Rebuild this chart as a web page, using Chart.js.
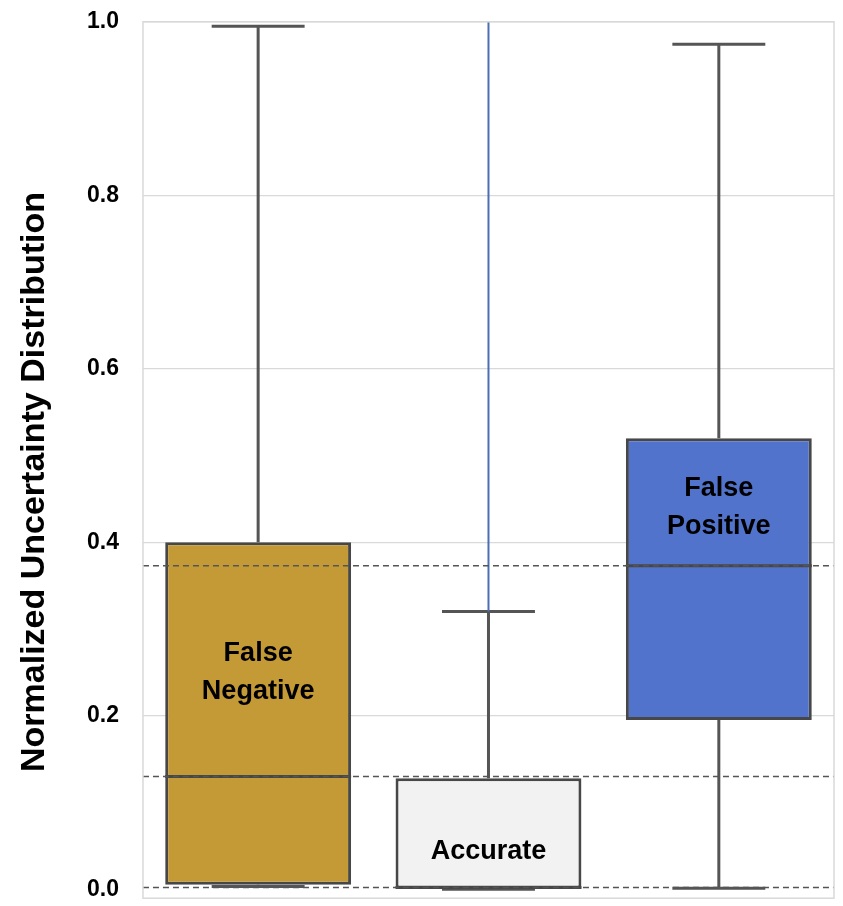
<!DOCTYPE html>
<html>
<head>
<meta charset="utf-8">
<script src="https://cdn.jsdelivr.net/npm/chart.js@4.4.1/dist/chart.umd.min.js"></script>
<style>
  html, body { margin: 0; padding: 0; background: #fff; overflow: hidden; }
  #myChart { display: block; margin-top: -16px; }
</style>
</head>
<body>
<canvas id="myChart" width="843" height="952"></canvas>
<script>
// datos del box plot
const categories = ['False Negative', 'Accurate', 'False Positive'];
const boxLabels = [['False', 'Negative'], ['Accurate'], ['False', 'Positive']];
const labelPos = [0.25, 0.043, 0.44];          // donde va el texto dentro de cada caja
const whiskerLow = [0.003, 0.0, 0.001];
const q1 = [0.005, 0.0, 0.195];
const median = [0.130, 0.002, 0.373];
const q3 = [0.400, 0.128, 0.520];
const whiskerHigh = [0.995, 0.320, 0.974];
const outlierTop = [null, 1.0, null];
const refLines = [0.373, 0.130, 0.002];
const yTicks = [0.0, 0.2, 0.4, 0.6, 0.8, 1.0];
const boxColors = ['#C49A37', '#F2F2F2', '#5273CC'];
const yTitle = 'Normalized Uncertainty Distribution';

// plugin para bigotes, medianas, lineas punteadas y textos
const boxExtras = {
  id: 'boxExtras',
  afterDatasetsDraw(chart) {
    const ctx = chart.ctx;
    const x = chart.scales.x;
    const y = chart.scales.y;
    const area = chart.chartArea;
    const meta = chart.getDatasetMeta(0);
    ctx.save();

    categories.forEach((c, i) => {
      const cx = x.getPixelForValue(i);
      const bw = meta.data[i].width;
      const cap = bw * 0.5;
      ctx.strokeStyle = '#555555';
      ctx.lineWidth = 3;
      // bigote superior
      ctx.beginPath();
      ctx.moveTo(cx, y.getPixelForValue(q3[i]));
      ctx.lineTo(cx, y.getPixelForValue(whiskerHigh[i]));
      ctx.moveTo(cx - cap / 2, y.getPixelForValue(whiskerHigh[i]));
      ctx.lineTo(cx + cap / 2, y.getPixelForValue(whiskerHigh[i]));
      // bigote inferior
      ctx.moveTo(cx, y.getPixelForValue(q1[i]));
      ctx.lineTo(cx, y.getPixelForValue(whiskerLow[i]));
      ctx.moveTo(cx - cap / 2, y.getPixelForValue(whiskerLow[i]));
      ctx.lineTo(cx + cap / 2, y.getPixelForValue(whiskerLow[i]));
      ctx.stroke();
      // mediana
      ctx.strokeStyle = '#474747';
      ctx.beginPath();
      ctx.moveTo(cx - bw / 2, y.getPixelForValue(median[i]));
      ctx.lineTo(cx + bw / 2, y.getPixelForValue(median[i]));
      ctx.stroke();
      // linea azul fina (outliers)
      if (outlierTop[i] !== null) {
        ctx.strokeStyle = '#4A6FB5';
        ctx.lineWidth = 2;
        ctx.beginPath();
        ctx.moveTo(cx, y.getPixelForValue(whiskerHigh[i]));
        ctx.lineTo(cx, y.getPixelForValue(outlierTop[i]));
        ctx.stroke();
      }
    });

    // lineas punteadas de referencia
    ctx.strokeStyle = '#555555';
    ctx.lineWidth = 1.5;
    ctx.setLineDash([6, 4]);
    refLines.forEach(v => {
      const py = y.getPixelForValue(v);
      ctx.beginPath();
      ctx.moveTo(area.left, py);
      ctx.lineTo(area.right, py);
      ctx.stroke();
    });
    ctx.setLineDash([]);

    // borde del area
    ctx.strokeStyle = '#D9D9D9';
    ctx.lineWidth = 1.5;
    ctx.strokeRect(area.left, area.top, area.right - area.left, area.bottom - area.top);

    // textos dentro de las cajas
    ctx.fillStyle = '#000';
    ctx.font = 'bold 27px "Liberation Sans", Arial, sans-serif';
    ctx.textAlign = 'center';
    ctx.textBaseline = 'middle';
    boxLabels.forEach((lines, i) => {
      const cx = x.getPixelForValue(i);
      const py = y.getPixelForValue(labelPos[i]);
      const off = (lines.length - 1) * 38 / 2;
      lines.forEach((t, k) => ctx.fillText(t, cx, py - off + k * 38));
    });

    // titulo del eje y
    ctx.font = 'bold 34px "Liberation Sans", Arial, sans-serif';
    ctx.translate(area.left - 108, (area.top + area.bottom) / 2 + 22);
    ctx.rotate(-Math.PI / 2);
    ctx.fillText(yTitle, 0, 0);
    ctx.restore();
  }
};

const ctx = document.getElementById('myChart');
new Chart(ctx, {
  type: 'bar',
  data: {
    labels: categories,
    datasets: [{
      data: categories.map((c, i) => [q1[i], q3[i]]),
      backgroundColor: boxColors,
      borderColor: '#474747',
      borderWidth: 3,
      borderSkipped: false,
      barPercentage: 0.807,
      categoryPercentage: 1.0
    }]
  },
  options: {
    responsive: false,
    animation: false,
    maintainAspectRatio: false,
    layout: { padding: { top: 4, right: 9, bottom: 0, left: 63 } },
    plugins: {
      legend: { display: false },
      tooltip: { enabled: false }
    },
    scales: {
      x: {
        display: false
      },
      y: {
        min: -0.0104,
        max: 1.0,
        afterBuildTicks: axis => { axis.ticks = yTicks.map(v => ({ value: v })); },
        grid: {
          color: ctx => (ctx.tick && ctx.tick.value === 0 ? 'rgba(0,0,0,0)' : '#D9D9D9'),
          lineWidth: 1.2,
          drawTicks: false
        },
        border: { display: false },
        ticks: {
          color: '#000',
          padding: 24,
          font: { family: '"Liberation Sans", Arial, sans-serif', size: 23, weight: 'bold' },
          callback: v => Number(v).toFixed(1)
        }
      }
    }
  },
  plugins: [boxExtras]
});
</script>
</body>
</html>
